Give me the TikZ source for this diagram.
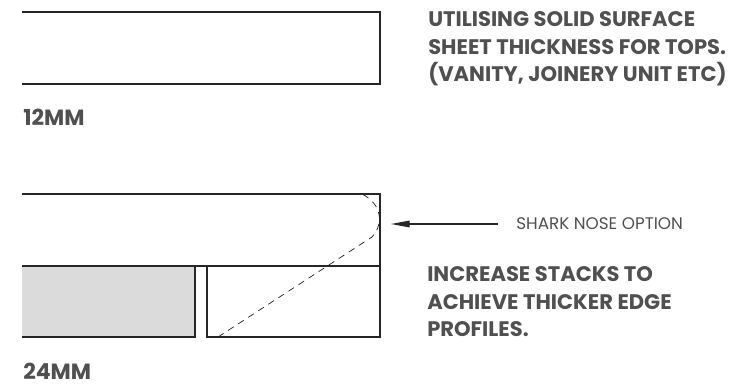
\documentclass[tikz,border=0pt]{standalone}
\usepackage{fontspec}
\setmainfont{Poppins}
\usetikzlibrary{arrows.meta}
\definecolor{textgrey}{HTML}{505050}
\definecolor{stackgrey}{HTML}{DBDBDB}
\tikzset{
  edgeline/.style={draw=black!85,line width=0.9pt},
  heading/.style={anchor=west,inner sep=0pt,text=textgrey,font=\fontsize{15.8}{20.6}\selectfont\bfseries,align=left},
  sizelabel/.style={anchor=west,inner sep=0pt,text=textgrey,font=\fontsize{16.5}{19}\selectfont\bfseries},
  cutline/.style={black!85,line width=0.55pt,dash pattern=on 5pt off 4pt},
}
\begin{document}
\begin{tikzpicture}[x=0.75pt,y=-0.75pt]
\useasboundingbox (0,0) rectangle (740,385);
% top sheet
\draw[edgeline] (22,12) -- (380,12) -- (380,84) -- (22,84);
\node[heading] (top) at (428,49) {UTILISING SOLID SURFACE\\SHEET THICKNESS FOR TOPS.\\(VANITY, JOINERY UNIT ETC)};
\node[sizelabel] (thin) at (23,117) {12MM};

% stacked sheets
\fill[stackgrey] (22,266) rectangle (195,337);
\draw[edgeline] (22,194) -- (380,194) -- (380,337) -- (207,337) -- (207,266);
\draw[edgeline] (22,266) -- (380,266);
\draw[edgeline] (22,337) -- (195,337) -- (195,266);
\draw[cutline] (218,337) -- (372,237) .. controls (384,224) and (382,204) .. (362,194);
\node[heading] (stack) at (427,302) {INCREASE STACKS TO\\ACHIEVE THICKER EDGE\\PROFILES.};
\node[sizelabel] (thick) at (23,371) {24MM};

% option label
\node[anchor=west,inner sep=0pt,text=textgrey,font=\fontsize{12.6}{14}\selectfont] (shark) at (516,224) {SHARK NOSE OPTION};
\coordinate (tip) at (391,224);
\coordinate (tail) at (498,224);
\draw[black!85,line width=0.8pt,-{Triangle[length=14pt,width=5pt]}] (tail) -- (tip);
\end{tikzpicture}
\end{document}
